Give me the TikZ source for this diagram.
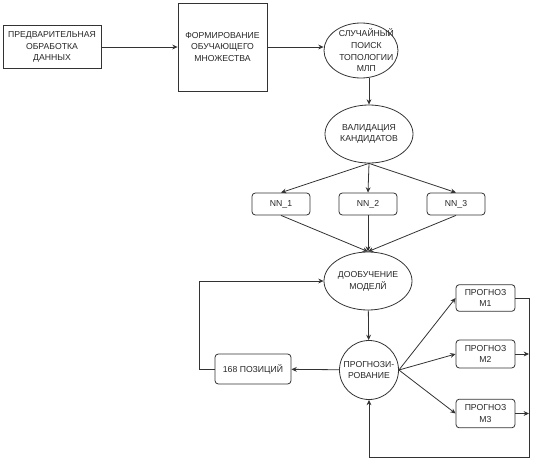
\documentclass[tikz,border=0pt]{standalone}
\usepackage{fontspec}
\setmainfont{Liberation Sans}
\usetikzlibrary{arrows.meta,shapes.geometric}

\tikzset{
	txt/.style={font=\fontsize{6.5}{8.8}\selectfont, align=center, inner sep=0pt, text=black!85},
	blok/.style={draw=black!80, line width=0.6pt, txt},
	rblok/.style={blok, rounded corners=2.5pt},
	ell/.style={draw=black!80, line width=0.6pt, ellipse, inner sep=0pt},
	arr/.style={draw=black!80, line width=0.6pt, -{Stealth[length=4pt,width=3.6pt]}},
	line/.style={line width=0.6pt}
}

\begin{document}
\begin{tikzpicture}[x=0.75pt, y=-0.75pt]
		%%%%% START %%%%%
		\useasboundingbox (0,0) rectangle (536,461);
		
		% top row
		\node[blok, minimum width=73.5pt, minimum height=32.25pt] (prep) at (52,47) {ПРЕДВАРИТЕЛЬНАЯ\\ОБРАБОТКА\\ДАННЫХ};
		\node[blok, minimum width=66.75pt, minimum height=66pt] (form) at (222.5,47) {ФОРМИРОВАНИЕ\\ОБУЧАЮЩЕГО\\МНОЖЕСТВА};
		\node[ell, minimum width=55.5pt, minimum height=41.25pt, label={[txt, xshift=4pt]center:СЛУЧАЙНЫЙ\\ПОИСК\\ТОПОЛОГИИ\\МЛП}] (poisk) at (361,50.5) {};
		
		\node[ell, minimum width=66pt, minimum height=43.5pt, label={[txt]center:ВАЛИДАЦИЯ\\КАНДИДАТОВ}] (valid) at (369,134) {};
		
		% candidates
		\node[rblok, minimum width=43.5pt, minimum height=16.5pt] (nn1) at (281,204) {NN\_1};
		\node[rblok, minimum width=43.5pt, minimum height=16.5pt] (nn2) at (368,204) {NN\_2};
		\node[rblok, minimum width=43.5pt, minimum height=16.5pt] (nn3) at (456,204) {NN\_3};
		
		\node[ell, minimum width=66pt, minimum height=43.5pt, label={[txt]center:ДООБУЧЕНИЕ\\МОДЕЛЙ}] (doob) at (368,281) {};
		\node[ell, circle, minimum size=44.25pt, label={[txt]center:ПРОГНОЗИ-\\РОВАНИЕ}] (prog) at (369,370) {};
		
		\node[rblok, minimum width=57pt, minimum height=22.5pt] (poz) at (253,369) {168 ПОЗИЦИЙ};
		
		\node[rblok, minimum width=44.25pt, minimum height=20pt] (m1) at (485.5,298) {ПРОГНОЗ\\М1};
		\node[rblok, minimum width=44.25pt, minimum height=21pt] (m2) at (485.5,354) {ПРОГНОЗ\\М2};
		\node[rblok, minimum width=44.25pt, minimum height=21.5pt] (m3) at (485.5,413.5) {ПРОГНОЗ\\М3};
		
		\coordinate (bus) at (529,457);
		
		% connectors
		\draw[arr] (prep) -- (form);
		\draw[arr] (form.east) -- (poisk.west |- form.east);
		\draw[arr] (valid.north |- poisk.south) -- (valid.north);
		
		\draw[arr] (valid.south) -- (nn1.north);
		\draw[arr] (valid.south) -- (nn2.north);
		\draw[arr] (valid.south) -- (nn3.north);
		
		\draw[arr] (nn1.south) -- (doob.north);
		\draw[arr] (nn2.south) -- (doob.north);
		\draw[arr] (nn3.south) -- (doob.north);
		
		\draw[arr] (doob) -- (prog);
		\draw[arr] (prog) -- (poz);
		\draw[arr] (poz.west) -- ++(-15,0) |- (doob.west);
		
		\draw[arr] (prog.east) -- (m1.west);
		\draw[arr] (prog.east) -- (m2.west);
		\draw[arr] (prog.east) -- (m3.west);
		
		\draw[arr] (m1.east) -| (bus) -| (prog.south);
		\draw[arr] (m2.east) -- (m2.east -| bus);
		\draw[arr] (m3.east) -- (m3.east -| bus);
		
		%%%%% END %%%%%
	\end{tikzpicture}
\end{document}
